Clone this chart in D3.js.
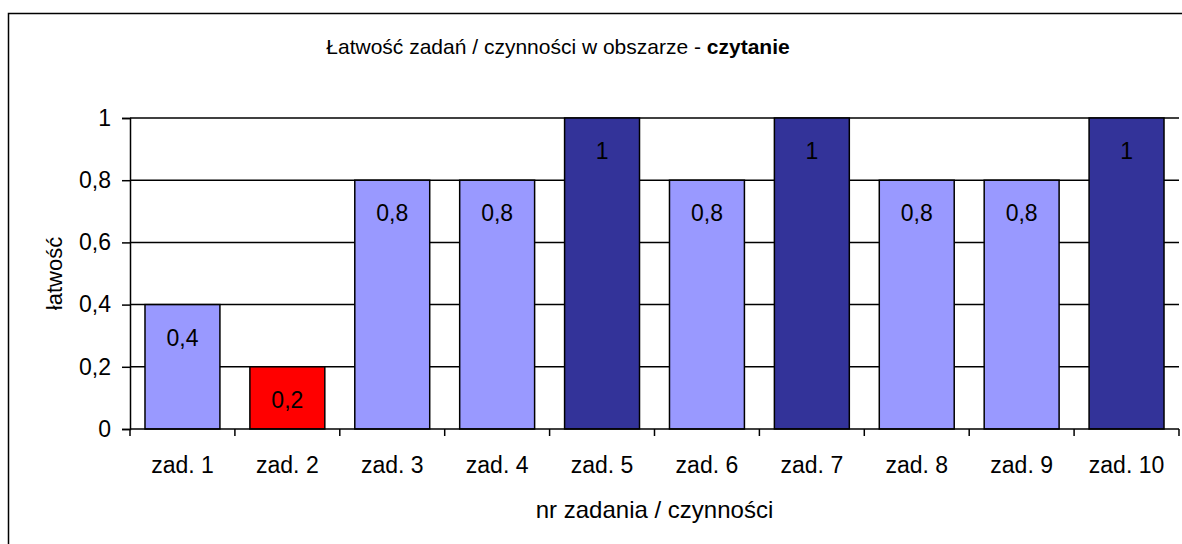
<!DOCTYPE html>
<html>
<head>
<meta charset="utf-8">
<script src="https://cdn.jsdelivr.net/npm/d3@7"></script>
<style>
  body { margin: 0; background: #fff; }
  text { font-family: "Liberation Sans", Arial, sans-serif; fill: #000; }
</style>
</head>
<body>
<div id="chart"></div>
<script>
// data
const categories = ["zad. 1", "zad. 2", "zad. 3", "zad. 4", "zad. 5", "zad. 6", "zad. 7", "zad. 8", "zad. 9", "zad. 10"];
const values = [0.4, 0.2, 0.8, 0.8, 1, 0.8, 1, 0.8, 0.8, 1];
const yTicks = [0, 0.2, 0.4, 0.6, 0.8, 1];
const titleText = "Łatwość zadań / czynności w obszarze - ";
const titleBold = "czytanie";

const width = 1182, height = 544;
const plot = { left: 130, right: 1179, top: 118, bottom: 429 };

// colour by value: low = red, full = dark blue, rest light
function barColor(v) {
    if (v <= 0.2) return "#ff0000";
    if (v >= 1) return "#333399";
    return "#9999ff";
}

const fmt = d => String(d).replace(".", ",");

const svg = d3.select("#chart").append("svg")
    .attr("width", width)
    .attr("height", height);

// outer chart frame (runs off the right/bottom edge)
svg.append("rect")
    .attr("x", 8.5).attr("y", 13.5)
    .attr("width", 1200).attr("height", 600)
    .attr("fill", "none")
    .attr("stroke", "#000")
    .attr("stroke-width", 1.5);

const x = d3.scaleBand()
    .domain(categories)
    .range([plot.left, plot.right])
    .paddingInner(0.2857)
    .paddingOuter(0.1429);

const y = d3.scaleLinear()
    .domain([0, 1])
    .range([plot.bottom, plot.top]);

// gridlines
svg.append("g")
    .selectAll("line")
    .data(yTicks.slice(1))
    .join("line")
    .attr("x1", plot.left).attr("x2", plot.right)
    .attr("y1", d => y(d)).attr("y2", d => y(d))
    .attr("stroke", "#000")
    .attr("stroke-width", 1.5);

// bars
svg.append("g")
    .selectAll("rect")
    .data(values)
    .join("rect")
    .attr("x", (d, i) => x(categories[i]))
    .attr("y", d => y(d))
    .attr("width", x.bandwidth())
    .attr("height", d => y(0) - y(d))
    .attr("fill", d => barColor(d))
    .attr("stroke", "#000")
    .attr("stroke-width", 1.5);

// value labels inside bars
svg.append("g")
    .selectAll("text")
    .data(values)
    .join("text")
    .attr("x", (d, i) => x(categories[i]) + x.bandwidth() / 2)
    .attr("y", d => y(d) + 41)
    .attr("text-anchor", "middle")
    .attr("font-size", 23)
    .text(d => fmt(d));

// y axis
const yAxis = svg.append("g")
    .attr("transform", `translate(${plot.left},0)`)
    .call(d3.axisLeft(y).tickValues(yTicks).tickSize(8).tickPadding(11).tickFormat(fmt));
yAxis.select(".domain").attr("stroke-width", 1.5);
yAxis.selectAll(".tick line").attr("stroke-width", 1.5);
yAxis.selectAll(".tick text")
    .attr("font-size", 23).attr("font-family", null).attr("fill", "#000");

// x axis: ticks sit between categories
const step = x.step();
const boundaries = d3.range(categories.length + 1).map(i => plot.left + i * step);
const xg = svg.append("g");
xg.append("line")
    .attr("x1", plot.left).attr("x2", plot.right)
    .attr("y1", plot.bottom).attr("y2", plot.bottom)
    .attr("stroke", "#000").attr("stroke-width", 1.5);
xg.selectAll(".tk")
    .data(boundaries)
    .join("line")
    .attr("x1", d => d).attr("x2", d => d)
    .attr("y1", plot.bottom).attr("y2", plot.bottom + 7)
    .attr("stroke", "#000").attr("stroke-width", 1.5);
xg.selectAll("text")
    .data(categories)
    .join("text")
    .attr("x", d => x(d) + x.bandwidth() / 2)
    .attr("y", 473)
    .attr("text-anchor", "middle")
    .attr("font-size", 23)
    .text(d => d);

// titles
const title = svg.append("text")
    .attr("x", 558).attr("y", 54)
    .attr("text-anchor", "middle")
    .attr("font-size", 21);
title.append("tspan").text(titleText);
title.append("tspan").attr("font-weight", "bold").text(titleBold);

svg.append("text")
    .attr("x", (plot.left + plot.right) / 2).attr("y", 518)
    .attr("text-anchor", "middle")
    .attr("font-size", 24)
    .text("nr zadania / czynności");

svg.append("text")
    .attr("transform", `translate(62,${(plot.top + plot.bottom) / 2}) rotate(-90)`)
    .attr("text-anchor", "middle")
    .attr("font-size", 22)
    .text("łatwość");
</script>
</body>
</html>
